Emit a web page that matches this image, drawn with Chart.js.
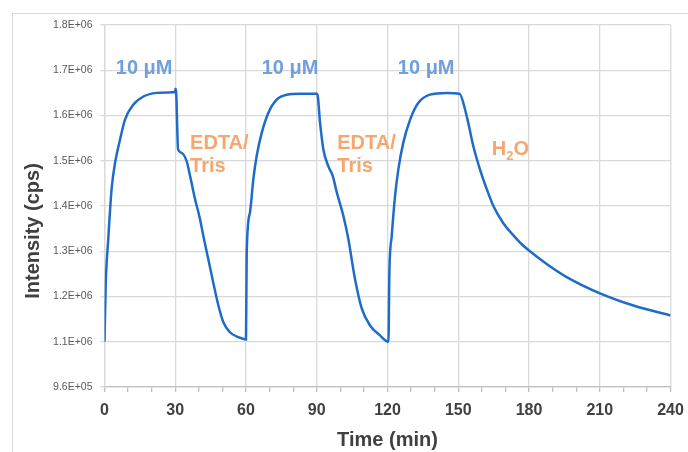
<!DOCTYPE html>
<html>
<head>
<meta charset="utf-8">
<script src="https://cdn.jsdelivr.net/npm/chart.js@4/dist/chart.umd.min.js"></script>
<style>
  html, body { margin: 0; padding: 0; background: #ffffff; }
  #wrap { position: relative; width: 688px; height: 452px; overflow: hidden; }
  canvas { display: block; }
</style>
</head>
<body>
<div id="wrap"><canvas id="c" width="688" height="452"></canvas></div>
<script>
// ---- Data ----
const timeMin = [
  0, 0.5, 1.6, 3.0, 4.5, 6.6, 8.7, 12.2, 16.5, 22.1, 27, 29.8, 30.1, 30.4,
  31.2, 32.5, 34.9, 36.3, 38.4, 40.5, 41.9, 44.0, 46.1, 48.3, 50.4, 53.2, 56.7, 60.0,
  60.3, 61.7, 63.1, 64.5, 66.7, 69.5, 73.0, 77.3, 82.9, 90.2,
  91.4, 92.8, 94.9, 96.8, 98.5, 101.3, 103.4, 106.2, 109.1, 112.6, 116.8, 120.4,
  120.8, 121.8, 123.2, 124.6, 126.7, 129.6, 133.1, 138.0, 145.1, 150.5,
  153.6, 156.4, 159.2, 162.1, 164.9, 169.1, 173.4, 176.8, 180.4, 187.5, 196.0, 210.1, 224.3, 240
];
const intensityCps = [
  1.100e6, 1.224e6, 1.327e6, 1.437e6, 1.496e6, 1.547e6, 1.591e6, 1.624e6, 1.642e6, 1.650e6, 1.651e6, 1.652e6, 1.659e6, 1.650e6,
  1.525e6, 1.518e6, 1.498e6, 1.466e6, 1.415e6, 1.371e6, 1.334e6, 1.283e6, 1.231e6, 1.180e6, 1.143e6, 1.121e6, 1.110e6, 1.105e6,
  1.297e6, 1.386e6, 1.459e6, 1.510e6, 1.562e6, 1.606e6, 1.635e6, 1.646e6, 1.648e6, 1.648e6,
  1.584e6, 1.525e6, 1.488e6, 1.466e6, 1.430e6, 1.378e6, 1.327e6, 1.239e6, 1.173e6, 1.136e6, 1.114e6, 1.100e6,
  1.253e6, 1.334e6, 1.422e6, 1.481e6, 1.540e6, 1.591e6, 1.628e6, 1.646e6, 1.650e6, 1.648e6,
  1.598e6, 1.532e6, 1.481e6, 1.437e6, 1.400e6, 1.362e6, 1.335e6, 1.316e6, 1.300e6, 1.272e6, 1.243e6, 1.207e6, 1.180e6, 1.158e6
];
const yTickLabels = ['9.6E+05', '1.1E+06', '1.2E+06', '1.3E+06', '1.4E+06', '1.5E+06', '1.6E+06', '1.7E+06', '1.8E+06'];
const xTickLabels = ['0', '30', '60', '90', '120', '150', '180', '210', '240'];
const yAxisTitle = 'Intensity (cps)';
const xAxisTitle = 'Time (min)';

// Text labels placed in data units
const blueLabels = [
  { text: '10 \u03BCM', t: 16.8, v: 1.705e6 },
  { text: '10 \u03BCM', t: 78.7, v: 1.705e6 },
  { text: '10 \u03BCM', t: 136.4, v: 1.705e6 }
];
const orangeLabels = [
  { text: 'EDTA/', t: 36.3, v: 1.538e6 },
  { text: 'Tris', t: 36.3, v: 1.4875e6 },
  { text: 'EDTA/', t: 98.7, v: 1.538e6 },
  { text: 'Tris', t: 98.7, v: 1.4875e6 }
];
const waterLabel = { t: 164.2, v: 1.525e6 };

const points = timeMin.map((t, i) => ({ x: t, y: intensityCps[i] }));

const GRID = '#d9d9d9';
const FONT = "'Liberation Sans', Arial, sans-serif";

const framePlugin = {
  id: 'frame',
  beforeDraw(chart) {
    const ctx = chart.ctx;
    ctx.save();
    ctx.strokeStyle = '#d9d9d9';
    ctx.lineWidth = 1;
    ctx.strokeRect(12.5, 13.5, 900, 900);
    ctx.restore();
  }
};

const textPlugin = {
  id: 'texts',
  afterDraw(chart) {
    const ctx = chart.ctx;
    const xs = chart.scales.x, ys = chart.scales.y;
    const area = chart.chartArea;
    ctx.save();
    // y-axis title (sits a little below the plot centre in the original)
    ctx.save();
    ctx.translate(33, (area.top + area.bottom) / 2 + 25);
    ctx.rotate(-Math.PI / 2);
    ctx.textAlign = 'center';
    ctx.textBaseline = 'middle';
    ctx.fillStyle = '#404040';
    ctx.font = 'bold 20px ' + FONT;
    ctx.fillText(yAxisTitle, 0, 0);
    ctx.restore();

    ctx.textBaseline = 'middle';
    ctx.font = 'bold 20px ' + FONT;
    ctx.fillStyle = '#6f9fdc';
    ctx.textAlign = 'center';
    blueLabels.forEach(l => ctx.fillText(l.text, xs.getPixelForValue(l.t), ys.getPixelForValue(l.v)));
    ctx.fillStyle = '#f6a66f';
    ctx.textAlign = 'left';
    orangeLabels.forEach(l => ctx.fillText(l.text, xs.getPixelForValue(l.t), ys.getPixelForValue(l.v)));
    // H2O with subscript
    let x = xs.getPixelForValue(waterLabel.t);
    const y = ys.getPixelForValue(waterLabel.v);
    ctx.fillText('H', x, y);
    x += ctx.measureText('H').width;
    ctx.font = 'bold 13px ' + FONT;
    ctx.fillText('2', x, y + 7);
    x += ctx.measureText('2').width;
    ctx.font = 'bold 20px ' + FONT;
    ctx.fillText('O', x, y);
    ctx.restore();
  }
};

new Chart(document.getElementById('c'), {
  type: 'line',
  data: {
    datasets: [{
      data: points,
      borderColor: '#1f6cc8',
      borderWidth: 2.5,
      pointRadius: 0,
      fill: false,
      cubicInterpolationMode: 'monotone'
    }]
  },
  options: {
    responsive: false,
    animation: false,
    layout: { padding: { left: 12, right: 17.5, top: 25, bottom: 0 } },
    plugins: { legend: { display: false }, tooltip: { enabled: false } },
    scales: {
      x: {
        type: 'linear',
        min: 0, max: 240,
        afterBuildTicks(scale) {
          const arr = [];
          for (let v = 0; v <= 240; v += 10) arr.push({ value: v });
          scale.ticks = arr;
        },
        afterFit(scale) {
          scale.height = 65;
          scale.paddingLeft = 0;
          scale.paddingRight = 0;
        },
        grid: {
          color: c => (c.tick && c.tick.value % 30 === 0) ? GRID : 'rgba(0,0,0,0)',
          tickColor: '#bfbfbf',
          tickLength: 5,
          lineWidth: 1.3
        },
        border: { color: '#bfbfbf', width: 1.3 },
        ticks: {
          autoSkip: false,
          maxRotation: 0,
          padding: 9,
          color: '#404040',
          font: { family: FONT, size: 16, weight: 'bold' },
          callback: (v) => (v % 30 === 0 ? xTickLabels[v / 30] : '')
        },
        title: {
          display: true,
          text: xAxisTitle,
          color: '#404040',
          font: { family: FONT, size: 20, weight: 'bold' },
          padding: { top: 0, bottom: 0 }
        }
      },
      y: {
        min: 1.0e6, max: 1.8e6,
        afterFit(scale) { scale.width = 92.5; },
        grid: { color: GRID, lineWidth: 1.3, tickLength: 4, tickColor: GRID },
        border: { color: GRID, width: 1.3 },
        ticks: {
          stepSize: 1e5,
          padding: 8,
          color: '#595959',
          font: { family: FONT, size: 10.5 },
          callback: (v, i) => yTickLabels[i]
        },
        title: { display: false }
      }
    }
  },
  plugins: [framePlugin, textPlugin]
});
</script>
</body>
</html>
